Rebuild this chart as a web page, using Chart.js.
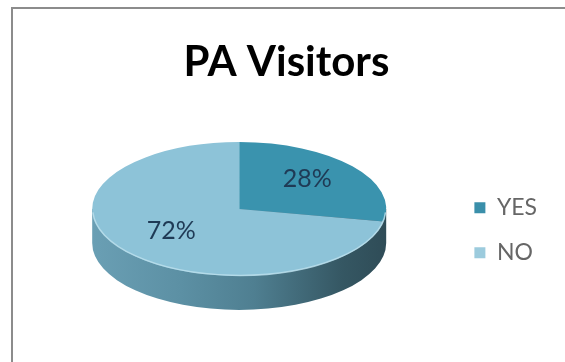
<!DOCTYPE html>
<html>
<head>
<meta charset="utf-8">
<title>PA Visitors</title>
<script src="https://cdn.jsdelivr.net/npm/chart.js@4.4.0/dist/chart.umd.min.js"></script>
<style>
  html, body { margin: 0; padding: 0; background: #fff; overflow: hidden; }
  .frame { position: absolute; left: 11px; top: 7px; width: 620px; height: 400px;
           border-left: 2px solid #8c8c8c; border-top: 2px solid #8c8c8c; }
  .wrap { position: absolute; left: 0; top: 0; width: 565px; height: 362px; }
</style>
</head>
<body>
<div class="frame"></div>
<div class="wrap"><canvas id="chart" width="565" height="362"></canvas></div>
<script>
const categories = ['YES', 'NO'];
const visitorShares = [28, 72];
const sliceColors = ['#3A93AE', '#8DC3D8'];
const legendColors = ['#3A8FAA', '#9CCBDD'];

// squash the pie into an ellipse and give it a side wall
const tiltPlugin = {
  id: 'tilt',
  beforeDatasetsDraw(chart, args, opts) {
    const arcs = chart.getDatasetMeta(0).data;
    if (!arcs.length) return;
    const { x, y, outerRadius: r } = arcs[0];
    const ctx = chart.ctx;
    const ry = r * opts.ratio;

    ctx.save();
    const g = ctx.createLinearGradient(x - r, 0, x + r, 0);
    g.addColorStop(0, '#6A9FB4');
    g.addColorStop(0.3, '#5C90A4');
    g.addColorStop(0.55, '#4F7F91');
    g.addColorStop(0.85, '#355763');
    g.addColorStop(1, '#2F4C57');
    ctx.fillStyle = g;
    ctx.beginPath();
    ctx.moveTo(x + r, y);
    ctx.lineTo(x + r, y + opts.depth);
    ctx.ellipse(x, y + opts.depth, r, ry, 0, 0, Math.PI);
    ctx.lineTo(x - r, y);
    ctx.closePath();
    ctx.fill();
    ctx.restore();

    ctx.save();
    ctx.translate(x, y);
    ctx.scale(1, opts.ratio);
    ctx.translate(-x, -y);
  },
  afterDatasetsDraw(chart, args, opts) {
    const ctx = chart.ctx;
    ctx.restore();
    const arcs = chart.getDatasetMeta(0).data;
    if (!arcs.length) return;
    const { x, y, outerRadius: r } = arcs[0];
    const ry = r * opts.ratio;

    // light rim on the front edge of the top face
    ctx.save();
    ctx.strokeStyle = 'rgba(190, 225, 238, 0.8)';
    ctx.lineWidth = 1.5;
    ctx.beginPath();
    ctx.ellipse(x, y, r - 0.5, ry - 0.5, 0, 0.05, Math.PI - 0.05);
    ctx.stroke();
    ctx.restore();

    // percentage labels
    const values = chart.data.datasets[0].data;
    const total = values.reduce((a, b) => a + b, 0);
    ctx.save();
    ctx.font = '25px Lato';
    ctx.fillStyle = '#1F3A55';
    ctx.textAlign = 'center';
    ctx.textBaseline = 'middle';
    arcs.forEach((arc, i) => {
      const mid = (arc.startAngle + arc.endAngle) / 2;
      const lx = x + Math.cos(mid) * r * opts.labelRadius;
      const ly = y + Math.sin(mid) * ry * opts.labelRadius - 4;
      ctx.fillText(Math.round(values[i] / total * 100) + '%', lx, ly);
    });
    ctx.restore();
  }
};

new Chart(document.getElementById('chart'), {
  type: 'pie',
  data: {
    labels: categories,
    datasets: [{
      data: visitorShares,
      backgroundColor: sliceColors,
      borderWidth: 0,
      clip: false
    }]
  },
  options: {
    responsive: false,
    animation: false,
    events: [],
    layout: {
      padding: { left: 26, right: 18, top: 0, bottom: 6 }
    },
    plugins: {
      tilt: { ratio: 0.455, depth: 34, labelRadius: 0.6 },
      title: {
        display: true,
        text: 'PA Visitors',
        color: '#000',
        font: { family: 'Lato', size: 42, weight: 'bold', lineHeight: '0px' },
        padding: { top: 62, bottom: 0 }
      },
      legend: {
        position: 'right',
        align: 'center',
        title: { display: true, text: ' ', padding: 45, font: { size: 12 } },
        labels: {
          color: '#262626',
          font: { family: 'Lato', size: 23 },
          boxWidth: 11,
          boxHeight: 11,
          padding: 22,
          generateLabels(chart) {
            return chart.data.labels.map((label, i) => ({
              text: label,
              fillStyle: legendColors[i],
              strokeStyle: legendColors[i],
              lineWidth: 0,
              index: i
            }));
          }
        }
      },
      tooltip: { enabled: false }
    }
  },
  plugins: [tiltPlugin]
});
</script>
</body>
</html>
